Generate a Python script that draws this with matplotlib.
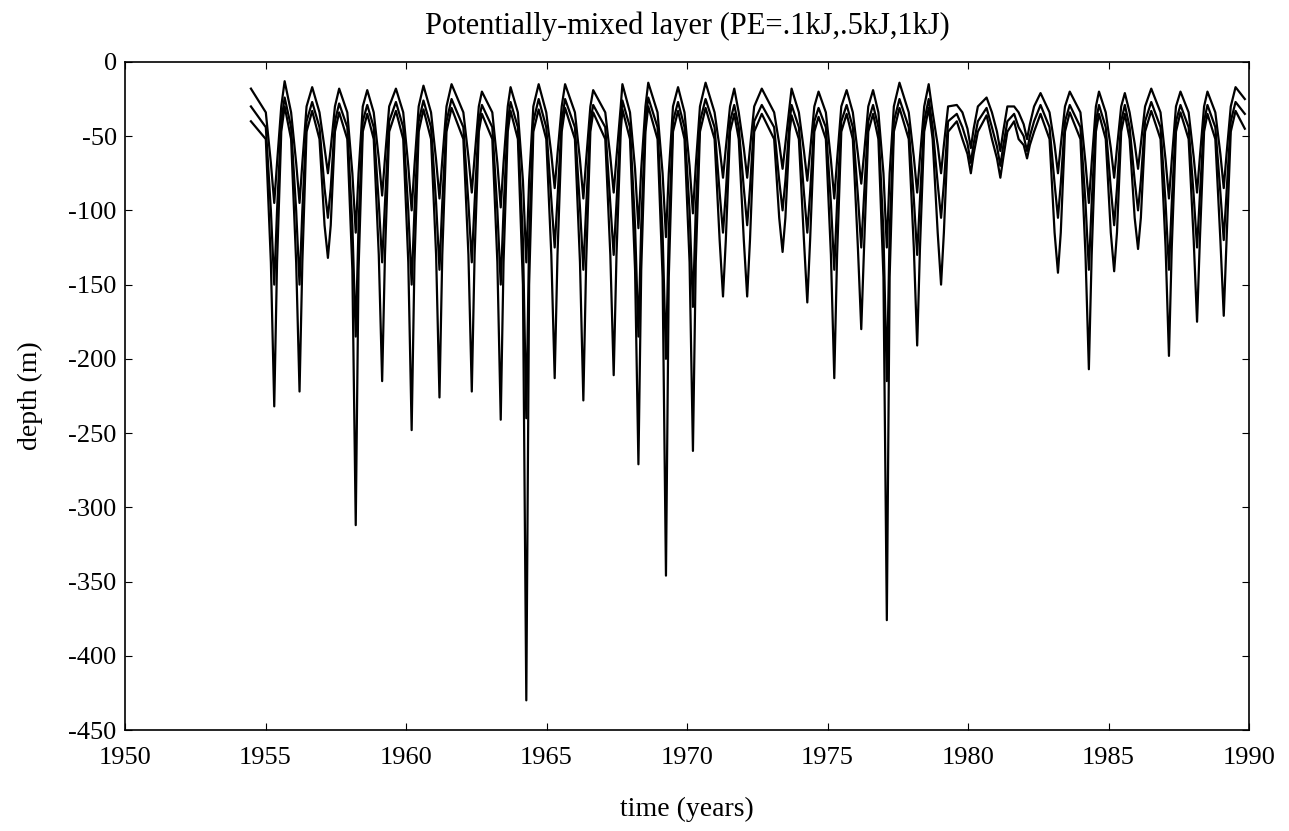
import matplotlib
matplotlib.use("Agg")
import matplotlib.pyplot as plt

plt.rcParams['font.family'] = ['Liberation Serif', 'DejaVu Serif']
plt.rcParams['axes.unicode_minus'] = False

# winter spike times (deepest mixing) and following summer peak times
spike_t = [1955.31, 1956.21, 1957.22, 1958.21, 1959.15, 1960.20, 1961.19, 1962.34, 1963.37, 1964.28,
           1965.29, 1966.31, 1967.39, 1968.27, 1969.25, 1970.21, 1971.28, 1972.14, 1973.40, 1974.28,
           1975.24, 1976.20, 1977.11, 1978.19, 1979.04, 1980.10, 1981.15, 1982.10, 1983.20, 1984.30,
           1985.20, 1986.05, 1987.15, 1988.15, 1989.10]
summer_t = [1955.68, 1956.66, 1957.62, 1958.62, 1959.64, 1960.62, 1961.62, 1962.70, 1963.72, 1964.72,
            1965.66, 1966.66, 1967.70, 1968.62, 1969.68, 1970.66, 1971.68, 1972.66, 1973.72, 1974.68,
            1975.68, 1976.62, 1977.56, 1978.60, 1979.60, 1980.66, 1981.64, 1982.58, 1983.62, 1984.66,
            1985.58, 1986.52, 1987.56, 1988.52, 1989.52]

# PE = 1 kJ
spike_1 = [-232, -222, -132, -312, -215, -248, -226, -222, -241, -430, -213, -228, -211, -271, -346,
           -262, -158, -158, -128, -162, -213, -180, -376, -191, -150, -75, -78, -65, -142, -207,
           -141, -126, -198, -175, -171]
shoulder_1 = [-135, -135, -110, -140, -130, -135, -130, -130, -135, -150, -130, -135, -130, -140, -145,
              -135, -120, -120, -105, -120, -130, -125, -145, -125, -115, -62, -65, -56, -115, -130,
              -115, -105, -125, -120, -120]
top_1 = [-30, -33, -34, -35, -33, -32, -31, -35, -33, -32, -31, -34, -32, -30, -33, -31, -35, -35,
         -36, -37, -35, -35, -31, -31, -40, -36, -40, -35, -34, -35, -35, -33, -34, -35, -33]

# PE = .5 kJ
spike_05 = [-150, -150, -105, -185, -135, -150, -140, -135, -150, -240, -125, -140, -130, -185, -200,
            -165, -115, -110, -100, -115, -140, -125, -215, -130, -105, -68, -70, -60, -105, -140,
            -110, -100, -140, -125, -120]
shoulder_05 = [-100, -100, -85, -110, -95, -100, -95, -95, -100, -120, -92, -98, -95, -110, -115,
               -100, -88, -85, -80, -88, -95, -90, -115, -92, -82, -55, -57, -50, -82, -95,
               -85, -80, -95, -90, -88]
top_05 = [-24, -27, -28, -29, -27, -26, -25, -29, -27, -25, -25, -29, -26, -24, -27, -25, -29, -29,
          -29, -31, -29, -29, -25, -25, -35, -31, -35, -29, -29, -29, -29, -27, -29, -29, -27]

# PE = .1 kJ
spike_01 = [-95, -95, -75, -115, -90, -100, -92, -88, -98, -135, -85, -92, -88, -112, -118,
            -102, -78, -78, -72, -80, -92, -82, -125, -88, -75, -58, -60, -52, -75, -95,
            -78, -72, -92, -88, -85]
shoulder_01 = [-68, -68, -58, -75, -65, -70, -66, -64, -68, -80, -62, -66, -64, -72, -75,
               -70, -58, -58, -55, -60, -66, -62, -75, -64, -56, -45, -47, -42, -56, -68,
               -58, -55, -66, -64, -62]
top_01 = [-13, -17, -18, -19, -18, -16, -15, -20, -17, -15, -15, -19, -15, -14, -17, -14, -18, -18,
          -18, -20, -19, -19, -14, -15, -29, -24, -30, -21, -20, -20, -21, -18, -20, -20, -17]

# autumn / spring limb depths and start / end values (.1, .5, 1 kJ)
autumn = [-34, -44, -52]
spring = [-30, -40, -47]
start_t, end_t = 1954.48, 1989.85
start_d = [-18, -30, -40]
end_d = [-25, -35, -45]

# node times around each winter spike
limb_offsets = [-0.3, -0.12, 0.0, 0.1, 0.25]

fig = plt.figure(figsize=(12.89, 8.31), dpi=100)
ax = fig.add_axes([0.097, 0.1215, 0.872, 0.804])

series = [(spike_01, shoulder_01, top_01), (spike_05, shoulder_05, top_05), (spike_1, shoulder_1, top_1)]
for k, (sp, sh, tp) in enumerate(series):
    t = [start_t]
    d = [start_d[k]]
    for i in range(len(spike_t)):
        t += [spike_t[i] + o for o in limb_offsets] + [summer_t[i]]
        d += [autumn[k], sh[i], sp[i], sh[i], spring[k], tp[i]]
    t.append(end_t)
    d.append(end_d[k])
    ax.plot(t, d, color='black', lw=1.6)

ax.set_xlim(1950, 1990)
ax.set_ylim(-450, 0)
ax.set_xticks(range(1950, 1991, 5))
ax.set_yticks(range(-450, 1, 50))
ax.tick_params(direction='in', top=True, right=True, length=5, labelsize=19)
ax.tick_params(axis='x', pad=12)
ax.tick_params(axis='y', pad=6)
for s in ax.spines.values():
    s.set_linewidth(1.2)

ax.set_title('Potentially-mixed layer (PE=.1kJ,.5kJ,1kJ)', fontsize=22, pad=20)
ax.set_xlabel('time (years)', fontsize=20, labelpad=20)
ax.set_ylabel('depth (m)', fontsize=20, labelpad=18)

fig.savefig('out.png', dpi=100)
